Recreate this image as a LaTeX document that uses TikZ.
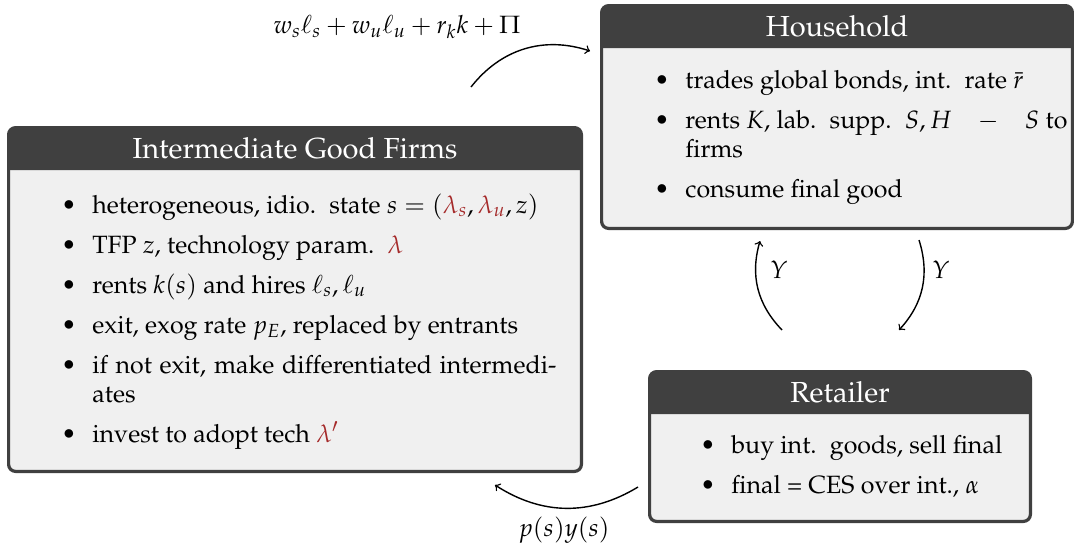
\documentclass[tikz,border=0pt]{standalone}
\usepackage[T1]{fontenc}
\usepackage{mathpazo}
\usetikzlibrary{fit}
\definecolor{framegray}{HTML}{404040}
\definecolor{backgray}{HTML}{F0F0F0}
\definecolor{lamred}{HTML}{A52A2A}
\newcommand{\rl}[1]{\textcolor{lamred}{#1}}
\newcommand{\xs}{\hspace{0.22em}}
\newcommand{\bodyfont}{\fontsize{12.5}{14.5}\selectfont}
\newcommand{\titlefont}{\fontsize{14.5}{17}\selectfont}
\newenvironment{blist}{\setlength{\leftmargini}{15pt}\setlength{\labelsep}{8pt}\begin{itemize}\setlength{\itemsep}{5.5pt}\setlength{\parsep}{0pt}\setlength{\parskip}{0pt}\setlength{\topsep}{0pt}}{\end{itemize}}
\tikzset{
  boxframe/.style={draw=framegray, fill=backgray, line width=1.6pt, rounded corners=3.5pt, inner sep=0pt},
  titlebar/.style={fill=framegray},
  titletext/.style={text=white, font=\titlefont, inner sep=0pt},
  listtext/.style={anchor=base west, inner sep=0pt, align=justify, font=\bodyfont},
  flow/.style={->, line width=0.7pt},
  lab/.style={font=\bodyfont, inner sep=1pt}
}
\begin{document}
\begin{tikzpicture}[x=0.5pt, y=-0.5pt]
\useasboundingbox (0,0) rectangle (1074,548);
% Household
\node[boxframe, fit={(601.6,5.6) (1072.4,228.4)}] (hh) {};
\fill[titlebar] (601.6,48) [rounded corners=3.5pt] -- (601.6,5.6) -- (1072.4,5.6) [sharp corners] -- (1072.4,48) -- cycle;
\node[titletext] (hht) at (837,26) {Household};
\node[listtext, text width=206pt] (hhl) at (655,43) {%
\begin{blist}
\item trades global bonds, int.\xs{} rate $\bar r$
\item rents $K$, lab.\xs{} supp.\xs{} $S, H$\hfill$-$\hfill$S$ to\linebreak firms
\item consume final good
\end{blist}};
% Intermediate Good Firms
\node[boxframe, fit={(8.6,127.6) (581.4,471.4)}] (igf) {};
\fill[titlebar] (8.6,170) [rounded corners=3.5pt] -- (8.6,127.6) -- (581.4,127.6) [sharp corners] -- (581.4,170) -- cycle;
\node[titletext] (igft) at (295,148) {Intermediate Good Firms};
\node[listtext, text width=247pt] (igfl) at (62,168) {%
\begin{blist}
\item heterogeneous, idio.\xs{} state $s = (\rl{\lambda_s}, \rl{\lambda_u}, z)$
\item TFP $z$, technology param.\xs{} \rl{$\lambda$}
\item rents $k(s)$ and hires $\ell_s, \ell_u$
\item exit, exog rate $p_E$, replaced by entrants
\item if not exit, make differentiated intermedi-\linebreak ates
\item invest to adopt tech \rl{$\lambda'$}
\end{blist}};
% Retailer
\node[boxframe, fit={(649.6,371.6) (1030.4,521.4)}] (ret) {};
\fill[titlebar] (649.6,414) [rounded corners=3.5pt] -- (649.6,371.6) -- (1030.4,371.6) [sharp corners] -- (1030.4,414) -- cycle;
\node[titletext] (rett) at (840,392) {Retailer};
\node[listtext, text width=160pt] (retl) at (701,408) {%
\begin{blist}
\item buy int.\xs{} goods, sell final
\item final = CES over int., $\alpha$
\end{blist}};
% connectors
\coordinate (a1s) at (471,87);
\coordinate (a1e) at (590,51);
\draw[flow] (a1s) to[bend left=35] (a1e);
\node[lab] (l1) at (397,27) {$w_s\ell_s + w_u\ell_u + r_k k + \Pi$};
\coordinate (a2s) at (782,330);
\coordinate (a2e) at (760,241);
\draw[flow] (a2s) to[bend left=30] (a2e);
\node[lab] (l2) at (779,270) {$Y$};
\coordinate (a3s) at (919,240);
\coordinate (a3e) at (899,330);
\draw[flow] (a3s) to[bend left=30] (a3e);
\node[lab] (l3) at (941,270) {$Y$};
\coordinate (a4s) at (638,487);
\coordinate (a4e) at (495,485);
\draw[flow] (a4s) to[bend left=32] (a4e);
\node[lab] (l4) at (564,530) {$p(s)y(s)$};
\end{tikzpicture}
\end{document}
